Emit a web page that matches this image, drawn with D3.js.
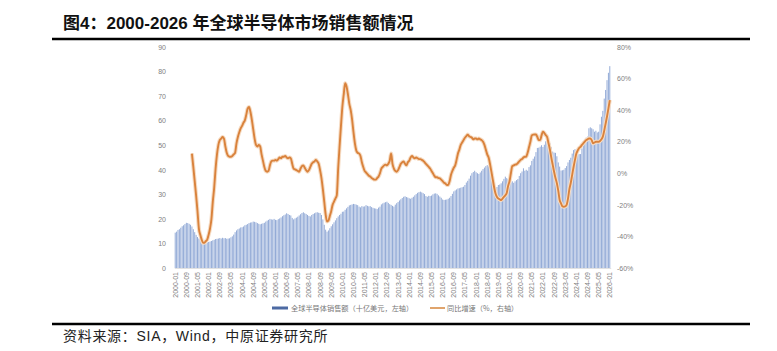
<!DOCTYPE html>
<html>
<head>
<meta charset="utf-8">
<script src="https://cdn.jsdelivr.net/npm/d3@7"></script>
<style>
  body { margin: 0; background: #fff; }
  svg { display: block; }
</style>
</head>
<body>
<div id="chart"></div>
<script>
// monthly sales, 2000-01 .. 2026-01 (billion USD, left axis)
const sales = [
  14.4, 14.8, 15.5, 15.8, 16.4, 17.0, 17.4, 17.9, 18.4, 18.3, 18.0, 17.6, // 2000
  16.9, 15.8, 14.6, 13.5, 12.6, 12.0, 11.6, 11.2, 10.3, 9.8, 10.0, 10.4,  // 2001
  10.6, 10.8, 11.0, 11.3, 11.5, 11.8, 11.9, 12.0, 12.2, 12.0, 12.3, 12.1, // 2002
  12.2, 11.9, 12.0, 12.1, 12.5, 12.9, 13.6, 14.6, 15.3, 15.8, 16.1, 16.5, // 2003
  16.6, 16.9, 17.4, 17.6, 17.9, 18.3, 18.5, 18.6, 18.9, 18.8, 18.6, 18.3, // 2004
  18.0, 17.8, 18.0, 18.2, 18.4, 18.9, 19.3, 19.6, 20.0, 19.8, 19.7, 20.0, // 2005
  19.6, 19.5, 19.9, 20.2, 20.6, 21.1, 21.5, 21.8, 22.3, 22.0, 21.6, 21.4, // 2006
  20.4, 19.8, 20.2, 20.5, 20.9, 21.4, 21.9, 22.4, 22.7, 22.3, 22.0, 21.6, // 2007
  21.2, 21.0, 21.6, 22.0, 22.3, 22.6, 22.7, 22.5, 22.4, 21.6, 19.8, 17.6, // 2008
  15.6, 14.8, 15.3, 16.2, 17.0, 17.8, 18.6, 19.4, 20.3, 21.0, 21.6, 22.1, // 2009
  22.9, 23.0, 23.7, 24.3, 24.9, 25.5, 25.7, 25.9, 26.1, 26.0, 25.8, 25.6, // 2010
  25.0, 24.7, 25.2, 25.0, 25.1, 25.6, 25.3, 25.1, 25.2, 24.8, 24.5, 24.3, // 2011
  24.2, 24.0, 24.6, 25.0, 25.9, 26.3, 26.6, 26.8, 27.0, 26.5, 26.0, 25.7, // 2012
  25.3, 25.0, 25.8, 26.4, 26.9, 27.5, 28.0, 28.5, 29.0, 29.2, 28.9, 28.7, // 2013
  28.4, 28.2, 28.6, 29.0, 29.6, 30.1, 30.6, 30.9, 31.1, 30.8, 30.5, 30.1, // 2014
  29.3, 29.0, 29.4, 29.3, 29.5, 30.0, 30.3, 30.4, 30.2, 29.6, 29.1, 28.6, // 2015
  27.9, 27.7, 27.8, 27.9, 28.2, 28.6, 29.3, 30.2, 31.2, 31.6, 32.0, 32.4, // 2016
  32.5, 32.7, 32.9, 33.1, 33.8, 34.8, 35.5, 36.4, 37.6, 38.6, 39.1, 39.6, // 2017
  39.0, 38.6, 38.3, 38.9, 39.6, 40.3, 40.9, 41.5, 41.9, 41.4, 40.0, 38.0, // 2018
  35.9, 32.9, 32.3, 33.0, 33.8, 34.0, 34.5, 35.3, 36.3, 37.2, 36.6, 36.2, // 2019
  35.5, 34.8, 35.3, 34.7, 35.3, 35.8, 36.2, 37.5, 38.6, 39.3, 40.6, 39.6, // 2020
  40.0, 39.6, 41.1, 41.8, 43.6, 44.5, 45.4, 47.2, 48.9, 49.0, 49.4, 50.0, // 2021
  49.3, 50.2, 51.6, 50.8, 51.8, 50.8, 49.2, 47.4, 47.0, 46.9, 45.5, 43.0, // 2022
  41.3, 39.7, 39.8, 40.0, 40.7, 41.5, 43.0, 44.0, 44.9, 46.6, 48.0, 48.4, // 2023
  47.6, 46.2, 46.4, 46.4, 48.7, 50.0, 51.3, 53.1, 53.5, 56.9, 57.3, 56.9, // 2024
  56.5, 55.5, 55.9, 55.2, 55.5, 58.5, 61.6, 64.0, 69.0, 72.5, 76.5, 79.5, // 2025
  82.2                                                                    // 2026-01
];

// year-on-year growth (%, right axis), 2001-01 .. 2026-01
const yoy = [
  12.5, 4, -5, -14, -24, -35, -39, -42, -44, -44, -43, -42,     // 2001
  -39, -35, -29, -18, -9, 3, 12, 18, 21, 22, 23, 22,           // 2002
  17, 13, 11, 10.5, 10.5, 11, 12, 13, 19, 23, 26, 28.5,        // 2003
  30, 32, 33.5, 37, 41, 42, 39, 34, 28, 22, 18, 17,            // 2004
  18, 17, 12, 8, 4, 1.5, 1, 1.5, 5, 7.5, 8, 8,                 // 2005
  8.5, 8, 9, 10, 9.5, 10.5, 10.5, 11, 10, 9.5, 10, 9.5,        // 2006
  6, 3, 2.5, 2, 1.5, 1, 3, 4.5, 5, 3.5, 2, 1,                  // 2007
  2, 4, 6, 7, 7.5, 8.5, 7.5, 6, 2, -3, -10, -18,               // 2008
  -26, -30.5, -30, -27, -24, -20, -18, -16, -14, 3, 17, 30,    // 2009
  42, 50, 57, 55, 50, 44, 40, 34, 26, 19, 14.5, 13,            // 2010
  12.5, 11, 7, 4, 1.5, 0.5, -0.5, -1.5, -2, -3, -3.5, -4,      // 2011
  -4, -3, -2, 0, 3, 4, 5, 5.5, 5, 6, 8, 12.5,                  // 2012
  6, 3, 1.5, 1, 2, 4, 6, 7, 7.5, 6, 5, 7,                      // 2013
  8, 10, 11, 10, 9.5, 10, 9.5, 9, 9, 8.5, 8, 7,                // 2014
  6, 5, 4, 3, 1.5, 0, -1.5, -2.5, -2.5, -3, -3.2, -4,          // 2015
  -5, -6, -6.5, -7.4, -7.4, -5, -1, 1.5, 3.5, 5, 8.5, 12.5,    // 2016
  15, 18, 19.5, 21, 22.5, 23.5, 24.5, 23.5, 23, 22.5, 21.5, 22, // 2017
  22, 21.5, 22, 21.5, 21, 20, 18, 15, 12, 10, 6, 1,            // 2018
  -4, -9, -13, -15, -16, -16.5, -17, -16, -15, -14, -12.5, -8, // 2019
  -5, 0, 4.5, 5, 5.5, 5.7, 6.5, 7.5, 8.5, 9, 10, 10.5,         // 2020
  10.5, 13, 16.5, 20, 24, 24.5, 24.6, 24.6, 23, 21, 21, 24,    // 2021
  26.3, 25.5, 24.2, 23, 19, 15, 10, 5.5, 1, -3, -6.3, -11,     // 2022
  -16.9, -19, -21, -21.2, -21, -20, -16, -10, -6, -1, 4, 8.5,  // 2023
  12.5, 14.5, 16, 16.8, 18, 19, 20, 21, 21.5, 22, 22, 21,      // 2024
  19, 19.5, 20, 20, 20, 20.5, 21.5, 23.2, 27, 31.5, 36, 41,    // 2025
  46.4                                                         // 2026-01
];
const yoyStart = 12; // index of 2001-01 in the month list

const tickLabels = [
  "2000-01","2000-09","2001-05","2002-01","2002-09","2003-05","2004-01","2004-09",
  "2005-05","2006-01","2006-09","2007-05","2008-01","2008-09","2009-05","2010-01",
  "2010-09","2011-05","2012-01","2012-09","2013-05","2014-01","2014-09","2015-05",
  "2016-01","2016-09","2017-05","2018-01","2018-09","2019-05","2020-01","2020-09",
  "2021-05","2022-01","2022-09","2023-05","2024-01","2024-09","2025-05","2026-01"
];
const leftTicks = [0, 10, 20, 30, 40, 50, 60, 70, 80, 90];
const rightTicks = [-60, -40, -20, 0, 20, 40, 60, 80];

const title = "图4：2000-2026 年全球半导体市场销售额情况";
const source = "资料来源：SIA，Wind，中原证券研究所";
const legendNames = ["全球半导体销售额（十亿美元，左轴）", "同比增速（%，右轴）"];

const width = 777, height = 351;
const fmt = d3.timeFormat("%Y-%m");
const months = d3.timeMonths(new Date(2000, 0, 1), new Date(2026, 1, 1)).map(fmt);

const svg = d3.select("#chart").append("svg")
  .attr("width", width)
  .attr("height", height);

// title and rules
svg.append("text")
  .attr("x", 63).attr("y", 29)
  .style("font-family", "'Liberation Sans', 'Noto Sans CJK SC', sans-serif")
  .style("font-weight", "bold")
  .style("font-size", "17px")
  .style("fill", "#111")
  .text(title);

svg.append("line")
  .attr("x1", 52).attr("x2", 750).attr("y1", 39).attr("y2", 39)
  .attr("stroke", "#000").attr("stroke-width", 2.5);

svg.append("line")
  .attr("x1", 52).attr("x2", 750).attr("y1", 324).attr("y2", 324)
  .attr("stroke", "#000").attr("stroke-width", 2.5);

svg.append("text")
  .attr("x", 63).attr("y", 341)
  .style("font-family", "'Liberation Sans', 'Noto Sans CJK SC', sans-serif")
  .style("font-size", "14px")
  .style("letter-spacing", "0.7px")
  .style("fill", "#222")
  .text(source);

// scales
const x = d3.scaleBand()
  .domain(months)
  .range([174.3, 610.7])
  .padding(0.3);

const yLeft = d3.scaleLinear().domain([0, 90]).range([268, 47]);
const yRight = d3.scaleLinear().domain([-60, 80]).range([268, 47]);

// bars
svg.append("g")
  .selectAll("rect")
  .data(sales)
  .join("rect")
  .attr("x", (d, i) => x(months[i]))
  .attr("width", x.bandwidth())
  .attr("y", d => yLeft(d))
  .attr("height", d => yLeft(0) - yLeft(d))
  .attr("fill", "#91a9d6");

// yoy line
const line = d3.line()
  .x((d, i) => x(months[i + yoyStart]) + x.bandwidth() / 2)
  .y(d => yRight(d))
  .curve(d3.curveMonotoneX);

svg.append("path")
  .datum(yoy)
  .attr("d", line)
  .attr("fill", "none")
  .attr("stroke", "#f6dcc4")
  .attr("stroke-width", 4);

svg.append("path")
  .datum(yoy)
  .attr("d", line)
  .attr("fill", "none")
  .attr("stroke", "#d9823c")
  .attr("stroke-width", 1.9)
  .attr("stroke-linejoin", "round");

// axes
const axisFont = "'Liberation Sans', Arial, sans-serif";

const gLeft = svg.append("g")
  .attr("transform", "translate(166,0)")
  .call(d3.axisLeft(yLeft).tickValues(leftTicks).tickSize(0).tickPadding(0));
gLeft.select(".domain").remove();

const gRight = svg.append("g")
  .attr("transform", "translate(617,0)")
  .call(d3.axisRight(yRight).tickValues(rightTicks).tickSize(0).tickPadding(0)
    .tickFormat(d => d + "%"));
gRight.select(".domain").remove();

const gBottom = svg.append("g")
  .attr("transform", "translate(0,268)")
  .call(d3.axisBottom(x).tickValues(tickLabels).tickSize(0).tickPadding(0));
gBottom.select(".domain").attr("stroke", "#d9d9d9").attr("stroke-width", 0.8);
gBottom.selectAll("text")
  .attr("transform", "rotate(-90)")
  .attr("text-anchor", "end")
  .attr("x", -4)
  .attr("y", 0)
  .attr("dy", "0.35em");

svg.selectAll(".tick text")
  .style("font-family", axisFont)
  .style("font-size", "7px")
  .style("fill", "#808080");

// legend
const legend = svg.append("g")
  .style("font-family", "'Noto Sans CJK SC', sans-serif")
  .style("font-size", "7.2px")
  .style("fill", "#777");

legend.append("rect")
  .attr("x", 272).attr("y", 306.5).attr("width", 16).attr("height", 3)
  .attr("fill", "#4d6aa3");
legend.append("text")
  .attr("x", 291).attr("y", 310.5)
  .text(legendNames[0]);

legend.append("line")
  .attr("x1", 430).attr("x2", 445).attr("y1", 308).attr("y2", 308)
  .attr("stroke", "#e0a46c").attr("stroke-width", 2);
legend.append("text")
  .attr("x", 447).attr("y", 310.5)
  .text(legendNames[1]);
</script>
</body>
</html>
